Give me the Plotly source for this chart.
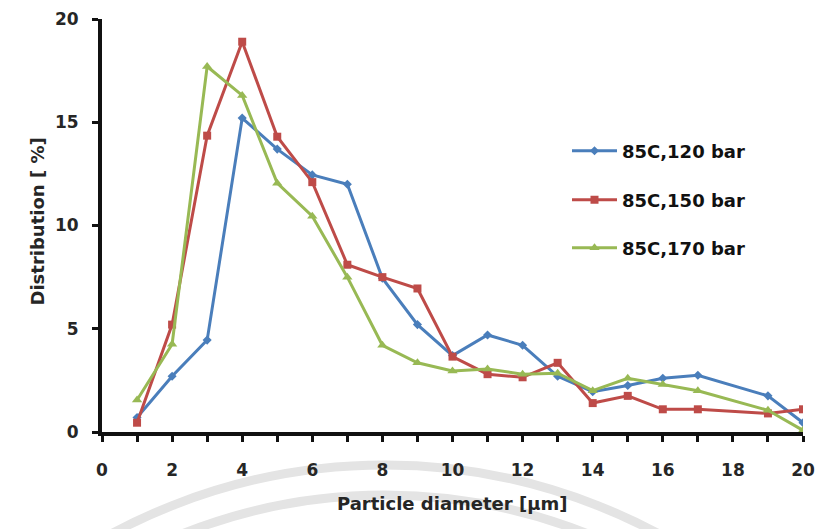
import plotly.graph_objects as go

diameter = [1, 2, 3, 4, 5, 6, 7, 8, 9, 10, 11, 12, 13, 14, 15, 16, 17, 19, 20]
bar120 = [0.7, 2.7, 4.45, 15.2, 13.7, 12.45, 12.0, 7.45, 5.2, 3.7, 4.7, 4.2, 2.7, 1.95, 2.25, 2.6, 2.75, 1.75, 0.45]
bar150 = [0.45, 5.2, 14.35, 18.9, 14.3, 12.1, 8.1, 7.5, 6.95, 3.65, 2.8, 2.65, 3.35, 1.4, 1.75, 1.1, 1.1, 0.9, 1.1]
bar170 = [1.55, 4.25, 17.7, 16.3, 12.05, 10.45, 7.5, 4.2, 3.35, 2.95, 3.05, 2.8, 2.85, 2.0, 2.6, 2.3, 2.0, 1.05, 0.08]

series_names = ["85C,120 bar", "85C,150 bar", "85C,170 bar"]
x_tickvals = [0, 2, 4, 6, 8, 10, 12, 14, 16, 18, 20]
y_tickvals = [0, 5, 10, 15, 20]

FONT = "DejaVu Sans"
W, H = 818, 529
L, R, T, B = 102, 15, 19, 97
PW, PH = W - L - R, H - T - B


def px_x(p):
    # reference-page pixel -> paper coordinate
    return (p - L) / PW


def px_y(p):
    return (H - B - p) / PH


fig = go.Figure()
styles = [
    ("#4A7EBB", "diamond", 7),
    ("#BE4B48", "square", 8),
    ("#98B954", "triangle-up", 9),
]
legend_ids = ["legend", "legend2", "legend3"]
legend_rows = [151, 200, 248]
for name, ys, (col, sym, sz), lid in zip(series_names, [bar120, bar150, bar170], styles, legend_ids):
    fig.add_trace(go.Scatter(
        x=diameter, y=ys, name=name, mode="lines+markers",
        line=dict(color=col, width=3),
        marker=dict(color=col, symbol=sym, size=sz),
        legend=lid,
    ))

legend_common = dict(
    xanchor="left", yanchor="middle",
    font=dict(family=FONT, size=18, color="#111", weight="bold"),
    bgcolor="rgba(0,0,0,0)", itemwidth=45,
)
layout_legends = {}
for lid, row in zip(legend_ids, legend_rows):
    layout_legends[lid] = dict(x=px_x(567), y=px_y(row), **legend_common)

# faint circular watermark below the x axis
shapes = []
for rad in (578, 548):
    cx, cy = 385, 1043
    shapes.append(dict(
        type="circle", xref="paper", yref="paper", layer="below",
        x0=px_x(cx - rad), x1=px_x(cx + rad), y0=px_y(cy + rad), y1=px_y(cy - rad),
        line=dict(color="#e4e4e4", width=9),
    ))

tickfont = dict(family=FONT, size=17, color="#262626", weight="bold")
titlefont = dict(family=FONT, size=18, color="#262626", weight="bold")
fig.update_layout(
    width=W, height=H,
    margin=dict(l=L, r=R, t=T, b=B),
    paper_bgcolor="white", plot_bgcolor="rgba(0,0,0,0)",
    font=dict(family=FONT, color="#1a1a1a"),
    showlegend=True,
    shapes=shapes,
    xaxis=dict(
        range=[0, 20], tickvals=x_tickvals, showgrid=False, zeroline=False,
        automargin=False, ticklabeloverflow="allow",
        showline=True, linecolor="#111", linewidth=4,
        ticks="outside", ticklen=6, tickwidth=3, tickcolor="#111",
        ticklabelstandoff=14,
        tickfont=tickfont,
        minor=dict(dtick=1, ticks="outside", ticklen=6, tickwidth=3, tickcolor="#111"),
    ),
    yaxis=dict(
        range=[0, 20], tickvals=y_tickvals, showgrid=False, zeroline=False,
        automargin=False,
        showline=True, linecolor="#111", linewidth=4,
        ticks="outside", ticklen=6, tickwidth=3, tickcolor="#111",
        ticklabelstandoff=10,
        tickfont=tickfont,
    ),
    annotations=[
        dict(text="Particle diameter [µm]", xref="paper", yref="paper",
             x=px_x(452), y=px_y(516), showarrow=False, font=titlefont),
        dict(text="Distribution [ %]", xref="paper", yref="paper",
             x=px_x(24), y=px_y(222), showarrow=False, textangle=-90, font=titlefont),
    ],
    **layout_legends,
)

fig.write_html(
    "out.html",
    config={"displayModeBar": False},
    post_script="document.body.style.margin='0';document.body.style.overflow='hidden';",
)
